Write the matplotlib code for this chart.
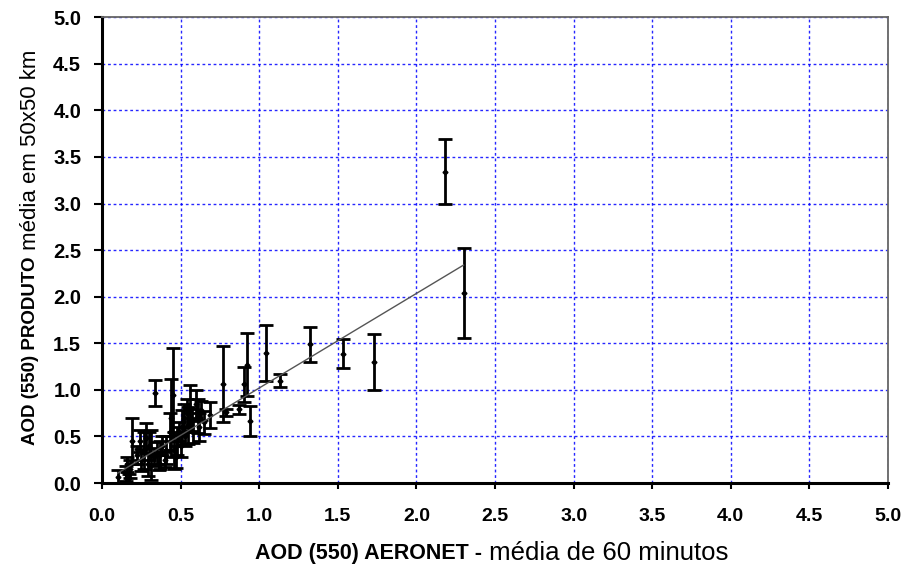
import matplotlib.pyplot as plt
import numpy as np

plt.rcParams['font.family'] = 'Liberation Sans'

# AOD AERONET (x), AOD produto (y) e desvio padrao (erro)
aeronet = [0.10, 0.15, 0.16, 0.17, 0.18, 0.19, 0.22, 0.24, 0.25, 0.27,
           0.28, 0.29, 0.30, 0.31, 0.33, 0.34, 0.35, 0.36, 0.37, 0.38,
           0.40, 0.41, 0.43, 0.44, 0.45, 0.46, 0.47, 0.48, 0.49, 0.50,
           0.51, 0.52, 0.53, 0.54, 0.55, 0.56, 0.57, 0.58, 0.60, 0.61,
           0.62, 0.63, 0.65, 0.69, 0.77, 0.79, 0.87, 0.90, 0.92, 0.94,
           1.04, 1.13, 1.32, 1.53, 1.73, 2.18, 2.30]
produto = [0.07, 0.10, 0.20, 0.05, 0.15, 0.45, 0.30, 0.45, 0.25, 0.35,
           0.48, 0.20, 0.40, 0.30, 0.28, 0.97, 0.32, 0.22, 0.30, 0.40,
           0.25, 0.35, 0.55, 0.70, 0.95, 0.35, 0.28, 0.45, 0.55, 0.40,
           0.60, 0.70, 0.50, 0.75, 0.62, 0.80, 0.68, 0.55, 0.85, 0.72,
           0.60, 0.78, 0.65, 0.73, 1.06, 0.76, 0.79, 1.06, 1.27, 0.67,
           1.40, 1.10, 1.49, 1.39, 1.30, 3.34, 2.04]
erro = [0.07, 0.08, 0.08, 0.05, 0.10, 0.25, 0.10, 0.12, 0.12, 0.20,
        0.16, 0.12, 0.15, 0.27, 0.10, 0.14, 0.12, 0.08, 0.15, 0.10,
        0.08, 0.15, 0.20, 0.42, 0.50, 0.20, 0.12, 0.15, 0.10, 0.12,
        0.18, 0.15, 0.10, 0.15, 0.20, 0.25, 0.12, 0.12, 0.15, 0.18,
        0.15, 0.10, 0.12, 0.14, 0.41, 0.04, 0.05, 0.19, 0.34, 0.16,
        0.30, 0.07, 0.19, 0.16, 0.30, 0.35, 0.48]

# reta de regressao
fit_a = 1.015
fit_b = 0.005

ticks = [0.0, 0.5, 1.0, 1.5, 2.0, 2.5, 3.0, 3.5, 4.0, 4.5, 5.0]

fig = plt.figure(figsize=(9.07, 5.73), dpi=100)
ax = fig.add_axes([0.1125, 0.157, 0.8665, 0.813])

ax.errorbar(aeronet, produto, yerr=erro, fmt='D', color='black', ms=2.5,
            ecolor='black', elinewidth=2, capsize=5, capthick=2, zorder=3)

xs = np.array([min(aeronet), max(aeronet)])
ax.plot(xs, fit_a * xs + fit_b, color='#555555', lw=1, zorder=4)

ax.set_xlim(0, 5)
ax.set_ylim(0, 5)
ax.set_xticks(ticks)
ax.set_yticks(ticks)
ax.set_xticklabels(['%.1f' % t for t in ticks], fontsize=14, fontweight='bold')
ax.set_yticklabels(['%.1f' % t for t in ticks], fontsize=14.5, fontweight='bold')
ax.tick_params(axis='y', direction='out', length=6, width=1.5, pad=9)
ax.tick_params(axis='x', direction='out', length=4, width=1.5, pad=14)

ax.grid(True, color='#0000ff', linestyle=(0, (2, 2)), lw=1, alpha=0.85)
ax.set_axisbelow(True)

ax.spines['left'].set_linewidth(2.2)
ax.spines['bottom'].set_linewidth(2.2)
ax.spines['top'].set_color('#666666')
ax.spines['right'].set_color('#666666')
ax.spines['top'].set_linewidth(1.3)
ax.spines['right'].set_linewidth(1.3)

# rotulo do eixo x: parte em negrito + parte normal
tx = fig.text(255 / 907, 1 - 553 / 573, 'AOD (550) AERONET -', fontsize=15.5,
              fontweight='bold', ha='left', va='center')
ax.annotate(' média de 60 minutos', xy=(1, 0.5), xycoords=tx, fontsize=18.5,
            ha='left', va='center')

# rotulo do eixo y
ty = fig.text(31 / 907, 1 - 445 / 573, 'AOD (550) PRODUTO', fontsize=13.5,
              fontweight='bold', rotation=90, ha='center', va='bottom')
ax.annotate(' média em 50x50 km', xy=(0.5, 1), xycoords=ty, fontsize=16,
            rotation=90, ha='center', va='bottom')

fig.savefig('out.png', dpi=100)
